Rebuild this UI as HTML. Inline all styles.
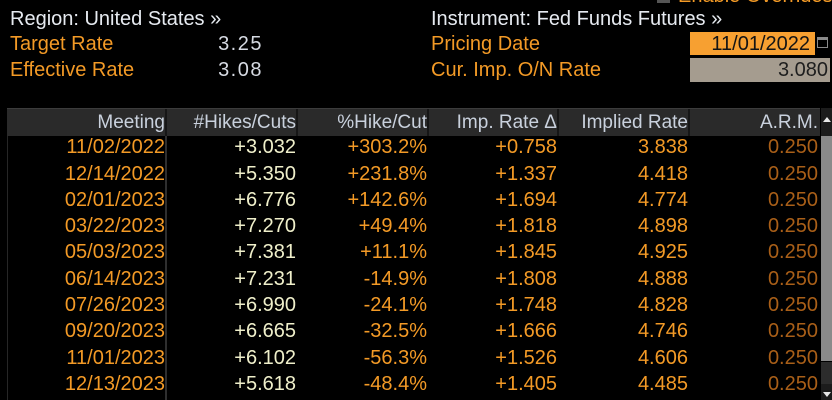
<!DOCTYPE html>
<html>
<head>
<meta charset="utf-8">
<style>
  html,body{margin:0;padding:0;background:#000;}
  body{width:832px;height:400px;overflow:hidden;position:relative;font-family:"Liberation Sans",sans-serif;}
  .t{position:absolute;white-space:nowrap;font-size:20px;line-height:26px;height:26px;}
  .w{color:#e6eaf0;}
  .o{color:#f39a26;}
  .v{color:#d6dae2;letter-spacing:1.5px;}
  .hdr{position:absolute;left:7px;top:108px;width:813px;height:28px;background:#2a2a2a;border-top:1px solid #3c3c3c;box-sizing:border-box;}
  .sep{position:absolute;top:109px;width:2px;height:27px;background:#161616;}
  .h{position:absolute;white-space:nowrap;font-size:19px;line-height:26px;height:26px;top:109.5px;color:#c9d1dd;}
  .row{position:absolute;left:0;width:832px;height:26px;}
  .row span{position:absolute;top:0;font-size:20px;line-height:26px;white-space:nowrap;}
  .c1{right:667px;color:#f39a26;}
  .c2{right:536px;color:#efefca;}
  .c3{right:405px;color:#f39a26;}
  .c4{right:275px;color:#f39a26;}
  .c5{right:144px;color:#f39a26;}
  .c6{right:14px;color:#a95f18;}
</style>
</head>
<body>
<!-- top clipped overrides -->
<div style="position:absolute;left:657px;top:-8px;width:13px;height:11px;background:#555;"></div>
<div class="t o" style="left:678px;top:-17px;">Enable Overrides</div>

<div class="t w" style="left:10px;top:5.7px;">Region: United States »</div>
<div class="t o" style="left:10px;top:31.2px;">Target Rate</div>
<div class="t o" style="left:10px;top:56.7px;">Effective Rate</div>
<div class="t v" style="right:569px;top:31.2px;">3.25</div>
<div class="t v" style="right:569px;top:56.7px;">3.08</div>

<div class="t w" style="left:431px;top:5.7px;">Instrument: Fed Funds Futures »</div>
<div class="t o" style="left:431px;top:31.2px;">Pricing Date</div>
<div class="t o" style="left:431px;top:56.7px;">Cur. Imp. O/N Rate</div>

<div style="position:absolute;left:690px;top:32px;width:125px;height:23px;background:#f7a031;"></div>
<div class="t" style="right:22px;top:31.2px;color:#141414;">11/01/2022</div>
<!-- calendar icon -->
<div style="position:absolute;left:817px;top:37px;width:11px;height:11px;border:1px solid #8a8a8a;box-sizing:border-box;border-top:3px solid #8a8a8a;"></div>
<div style="position:absolute;left:690px;top:58px;width:140px;height:24px;background:#a59c8f;"></div>
<div class="t" style="right:4px;top:56.7px;color:#1e1e1e;">3.080</div>

<!-- table header -->
<div class="hdr"></div>
<div class="sep" style="left:165px;"></div>
<div class="sep" style="left:296px;"></div>
<div class="sep" style="left:427px;"></div>
<div class="sep" style="left:557px;"></div>
<div class="sep" style="left:688px;"></div>
<div class="h" style="right:667px;">Meeting</div>
<div class="h" style="right:536px;">#Hikes/Cuts</div>
<div class="h" style="right:405px;">%Hike/Cut</div>
<div class="h" style="right:275px;">Imp. Rate Δ</div>
<div class="h" style="right:144px;">Implied Rate</div>
<div class="h" style="right:14px;">A.R.M.</div>

<!-- body vertical lines -->
<div style="position:absolute;left:7px;top:136px;width:1px;height:264px;background:#262626;"></div>
<div style="position:absolute;left:165px;top:136px;width:2px;height:264px;background:#2f2f2f;"></div>

<!-- scrollbar -->
<div style="position:absolute;left:821px;top:108px;width:11px;height:28px;background:#1c1c1c;"></div>
<div style="position:absolute;left:823px;top:117px;width:0;height:0;border-left:4px solid transparent;border-right:4px solid transparent;border-bottom:5px solid #e8e8e8;"></div>
<div style="position:absolute;left:821px;top:136px;width:11px;height:225px;background:#8a8a8a;"></div>
<div style="position:absolute;left:821px;top:362px;width:11px;height:22px;background:#2c2c2c;"></div>
<div style="position:absolute;left:821px;top:384px;width:11px;height:16px;background:#1c1c1c;"></div>
<div style="position:absolute;left:823px;top:392px;width:0;height:0;border-left:4px solid transparent;border-right:4px solid transparent;border-top:5px solid #e8e8e8;"></div>

<div class="row" style="top:134.2px;"><span class="c1">11/02/2022</span><span class="c2">+3.032</span><span class="c3">+303.2%</span><span class="c4">+0.758</span><span class="c5">3.838</span><span class="c6">0.250</span></div>
<div class="row" style="top:160.5px;"><span class="c1">12/14/2022</span><span class="c2">+5.350</span><span class="c3">+231.8%</span><span class="c4">+1.337</span><span class="c5">4.418</span><span class="c6">0.250</span></div>
<div class="row" style="top:186.8px;"><span class="c1">02/01/2023</span><span class="c2">+6.776</span><span class="c3">+142.6%</span><span class="c4">+1.694</span><span class="c5">4.774</span><span class="c6">0.250</span></div>
<div class="row" style="top:213.1px;"><span class="c1">03/22/2023</span><span class="c2">+7.270</span><span class="c3">+49.4%</span><span class="c4">+1.818</span><span class="c5">4.898</span><span class="c6">0.250</span></div>
<div class="row" style="top:239.4px;"><span class="c1">05/03/2023</span><span class="c2">+7.381</span><span class="c3">+11.1%</span><span class="c4">+1.845</span><span class="c5">4.925</span><span class="c6">0.250</span></div>
<div class="row" style="top:265.7px;"><span class="c1">06/14/2023</span><span class="c2">+7.231</span><span class="c3">-14.9%</span><span class="c4">+1.808</span><span class="c5">4.888</span><span class="c6">0.250</span></div>
<div class="row" style="top:292.0px;"><span class="c1">07/26/2023</span><span class="c2">+6.990</span><span class="c3">-24.1%</span><span class="c4">+1.748</span><span class="c5">4.828</span><span class="c6">0.250</span></div>
<div class="row" style="top:318.3px;"><span class="c1">09/20/2023</span><span class="c2">+6.665</span><span class="c3">-32.5%</span><span class="c4">+1.666</span><span class="c5">4.746</span><span class="c6">0.250</span></div>
<div class="row" style="top:344.6px;"><span class="c1">11/01/2023</span><span class="c2">+6.102</span><span class="c3">-56.3%</span><span class="c4">+1.526</span><span class="c5">4.606</span><span class="c6">0.250</span></div>
<div class="row" style="top:370.9px;"><span class="c1">12/13/2023</span><span class="c2">+5.618</span><span class="c3">-48.4%</span><span class="c4">+1.405</span><span class="c5">4.485</span><span class="c6">0.250</span></div>
</body>
</html>
